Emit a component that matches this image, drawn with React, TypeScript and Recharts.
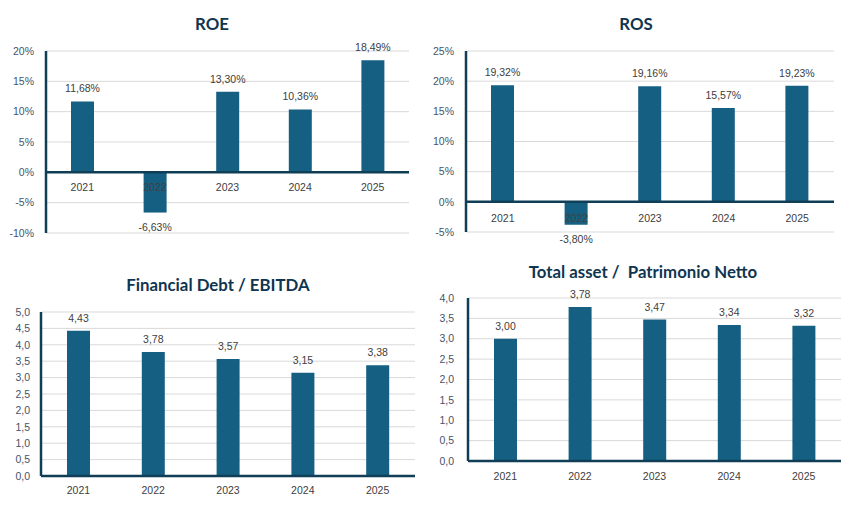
import React from 'react';
import { BarChart, Bar, XAxis, YAxis, CartesianGrid, ReferenceLine, LabelList } from 'recharts';

const years = ['2021', '2022', '2023', '2024', '2025'];
const roe = [11.68, -6.63, 13.3, 10.36, 18.49];
const ros = [19.32, -3.8, 19.16, 15.57, 19.23];
const debtEbitda = [4.43, 3.78, 3.57, 3.15, 3.38];
const assetEquity = [3.0, 3.78, 3.47, 3.34, 3.32];

const roeTicks = [-10, -5, 0, 5, 10, 15, 20];
const rosTicks = [-5, 0, 5, 10, 15, 20, 25];
const debtTicks = [0, 0.5, 1, 1.5, 2, 2.5, 3, 3.5, 4, 4.5, 5];
const assetTicks = [0, 0.5, 1, 1.5, 2, 2.5, 3, 3.5, 4];

const BAR = '#156082';
const DARK = '#0F3E56';
const TITLE = '#0F3550';
const TICK = '#44546A';
const LABEL = '#404040';
const FONT = 'Liberation Sans, Arial, sans-serif';

const pct = (v: number) => v.toFixed(2).replace('.', ',') + '%';
const dec2 = (v: number) => v.toFixed(2).replace('.', ',');
const dec1 = (v: number) => v.toFixed(1).replace('.', ',');

type Box = { left: number; top: number; width: number; height: number };
type Margin = { top: number; right: number; bottom: number; left: number };

interface PanelProps {
  title: string;
  titleX: number;
  titleY: number;
  values: number[];
  ticks: number[];
  tickFmt: (v: number) => string;
  labelFmt: (v: number) => string;
  box: Box;
  margin: Margin;
  yTickMargin: number;
  xLabelDy: number;
}

const X_AXIS_H = 1;

const Panel: React.FC<PanelProps> = ({
  title, titleX, titleY, values, ticks, tickFmt, labelFmt, box, margin, yTickMargin, xLabelDy,
}) => {
  const data = years.map((year, i) => ({ year, value: values[i] }));
  const min = ticks[0];
  const max = ticks[ticks.length - 1];
  const plotH = box.height - margin.top - margin.bottom;
  const up = (plotH * (0 - min)) / (max - min);
  // margin passed to recharts leaves room for the 1px x axis
  const chartMargin = { ...margin, bottom: margin.bottom - X_AXIS_H };

  // year labels sit just under the zero line, like Excel's "next to axis"
  const renderTick = (props: any) => {
    const { x, y, payload } = props;
    return (
      <text x={x} y={y - up + xLabelDy} textAnchor="middle" fill={LABEL} fontSize={10.5} fontFamily={FONT}>
        {payload.value}
      </text>
    );
  };

  const renderLabel = (props: any) => {
    const { x, y, width, height, value } = props;
    const cx = x + width / 2;
    const ty = value >= 0 ? Math.min(y, y + height) - 9 : Math.max(y, y + height) + 18;
    return (
      <text x={cx} y={ty} textAnchor="middle" fill={LABEL} fontSize={10.5} fontFamily={FONT}>
        {labelFmt(value)}
      </text>
    );
  };

  return (
    <>
      <div
        style={{
          position: 'absolute',
          left: titleX - 200,
          top: titleY - 10,
          width: 400,
          lineHeight: '20px',
          textAlign: 'center',
          fontFamily: 'Lato, sans-serif',
          fontWeight: 700,
          fontSize: 16.8,
          color: TITLE,
          whiteSpace: 'pre',
        }}
      >
        {title}
      </div>
      <div style={{ position: 'absolute', left: box.left, top: box.top }}>
        <BarChart width={box.width} height={box.height} data={data} margin={chartMargin}>
          <CartesianGrid vertical={false} stroke="#D9D9D9" />
          <YAxis
            width={40}
            domain={[min, max]}
            ticks={ticks}
            interval={0}
            tickFormatter={tickFmt}
            tickLine={false}
            tickMargin={yTickMargin}
            axisLine={{ stroke: DARK, strokeWidth: 2.5 }}
            tick={{ fill: TICK, fontSize: 10.5, fontFamily: FONT }}
          />
          <Bar dataKey="value" fill={BAR} barSize={23} isAnimationActive={false}>
            <LabelList dataKey="value" content={renderLabel} />
          </Bar>
          <ReferenceLine y={0} stroke={DARK} strokeWidth={2.5} />
          <XAxis
            dataKey="year"
            height={X_AXIS_H}
            axisLine={false}
            tickLine={false}
            tickSize={0}
            tickMargin={0}
            interval={0}
            tick={renderTick}
          />
        </BarChart>
      </div>
    </>
  );
};

export default function App() {
  return (
    <div style={{ position: 'absolute', left: 0, top: 0, width: 857, height: 520, background: '#fff', overflow: 'hidden' }}>
      <Panel
        title="ROE"
        titleX={212}
        titleY={24}
        values={roe}
        ticks={roeTicks}
        tickFmt={(v) => `${v}%`}
        labelFmt={pct}
        box={{ left: 0, top: 0, width: 420, height: 250 }}
        margin={{ top: 51, right: 11, bottom: 17, left: 6 }}
        yTickMargin={6}
        xLabelDy={19}
      />
      <Panel
        title="ROS"
        titleX={636}
        titleY={24}
        values={ros}
        ticks={rosTicks}
        tickFmt={(v) => `${v}%`}
        labelFmt={pct}
        box={{ left: 420, top: 0, width: 437, height: 250 }}
        margin={{ top: 51, right: 23, bottom: 18, left: 6 }}
        yTickMargin={6}
        xLabelDy={20}
      />
      <Panel
        title="Financial Debt / EBITDA"
        titleX={218}
        titleY={285}
        values={debtEbitda}
        ticks={debtTicks}
        tickFmt={dec1}
        labelFmt={dec2}
        box={{ left: 0, top: 250, width: 420, height: 270 }}
        margin={{ top: 62, right: 5, bottom: 44, left: 1 }}
        yTickMargin={5}
        xLabelDy={18}
      />
      <Panel
        title="Total asset /  Patrimonio Netto"
        titleX={643}
        titleY={272}
        values={assetEquity}
        ticks={assetTicks}
        tickFmt={dec1}
        labelFmt={dec2}
        box={{ left: 420, top: 250, width: 437, height: 270 }}
        margin={{ top: 48, right: 16, bottom: 59, left: 8 }}
        yTickMargin={8}
        xLabelDy={19}
      />
    </div>
  );
}
